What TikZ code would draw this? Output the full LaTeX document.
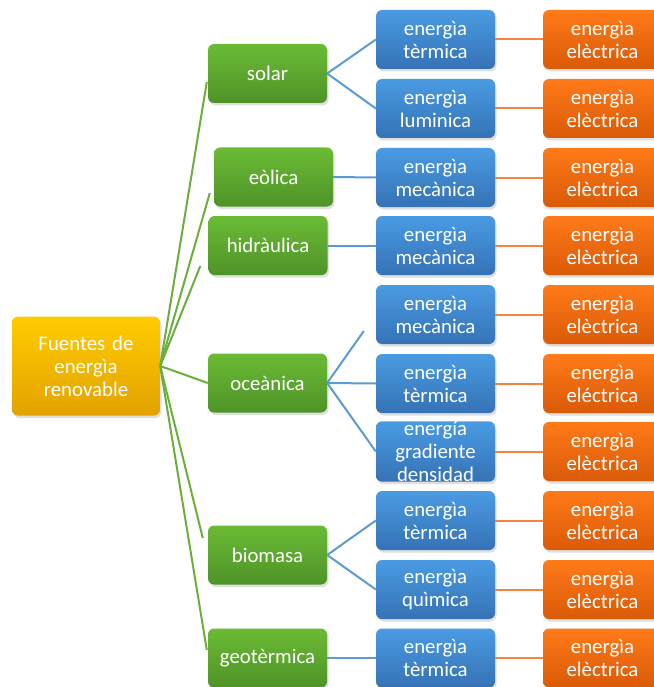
\documentclass[tikz,border=0pt]{standalone}
\usepackage{fontspec}
\setmainfont{Carlito}
\usetikzlibrary{calc,shadows}
\definecolor{gtop}{HTML}{6BBB35}
\definecolor{gbot}{HTML}{4F9328}
\definecolor{btop}{HTML}{4A9BE3}
\definecolor{bbot}{HTML}{3572B5}
\definecolor{otop}{HTML}{FF7A18}
\definecolor{obot}{HTML}{D95A08}
\definecolor{ytop}{HTML}{FFCC00}
\definecolor{ybot}{HTML}{E3A200}
\definecolor{gline}{HTML}{6AAF3C}
\definecolor{bline}{HTML}{5B9BD5}
\definecolor{oline}{HTML}{F4873D}
\tikzset{
  box/.style={rounded corners=6pt, minimum height=59pt, text width=119pt, minimum width=119pt,
    inner sep=0pt, align=center, text=white, font=\fontsize{20.8}{23}\selectfont,
    drop shadow={opacity=0.25, shadow xshift=1.5pt, shadow yshift=-2.5pt}},
  rootbox/.style={box, top color=ytop, bottom color=ybot, minimum width=148pt, text width=148pt, minimum height=99pt},
  greenbox/.style={box, top color=gtop, bottom color=gbot},
  bluebox/.style={box, top color=btop, bottom color=bbot},
  orangebox/.style={box, top color=otop, bottom color=obot},
  gconn/.style={draw=gline, line width=2pt},
  bconn/.style={draw=bline, line width=2pt},
  oconn/.style={draw=oline, line width=2pt}
}
\begin{document}
\begin{tikzpicture}[x=1pt,y=-1pt]
\useasboundingbox (0,0) rectangle (653,687);
% root
\node[rootbox] (root) at (86,366) {Fuentes de\\energìa\\renovable};
% level 1
\node[greenbox] (solar) at (267.5,73.5) {solar};
\node[greenbox] (eolica) at (273.5,177) {eòlica};
\node[greenbox] (hidraulica) at (268,245.5) {hidràulica};
\node[greenbox] (oceanica) at (267.5,383) {oceànica};
\node[greenbox] (biomasa) at (267.5,555) {biomasa};
\node[greenbox] (geotermica) at (267.5,658) {geotèrmica};
% level 2
\node[bluebox] (b1) at (435.5,39.5) {energìa\\tèrmica};
\node[bluebox] (b2) at (435.5,108.5) {energìa\\luminica};
\node[bluebox] (b3) at (435.5,177.5) {energìa\\mecànica};
\node[bluebox] (b4) at (435.5,245.5) {energìa\\mecànica};
\node[bluebox] (b5) at (435.5,314.5) {energìa\\mecànica};
\node[bluebox] (b6) at (435.5,383.5) {energìa\\tèrmica};
\node[bluebox] (b7) at (435.5,451.5) {energía\\gradiente\\densidad};
\node[bluebox] (b8) at (435.5,520.5) {energìa\\tèrmica};
\node[bluebox] (b9) at (435.5,589.5) {energìa\\quìmica};
\node[bluebox] (b10) at (435.5,658) {energìa\\tèrmica};
% level 3
\node[orangebox] (o1) at (602.5,39.5) {energìa\\elèctrica};
\node[orangebox] (o2) at (602.5,108.5) {energìa\\elèctrica};
\node[orangebox] (o3) at (602.5,177.5) {energìa\\elèctrica};
\node[orangebox] (o4) at (602.5,245.5) {energìa\\elèctrica};
\node[orangebox] (o5) at (602.5,314.5) {energìa\\elèctrica};
\node[orangebox] (o6) at (602.5,383.5) {energìa\\eléctrica};
\node[orangebox] (o7) at (602.5,451.5) {energìa\\elèctrica};
\node[orangebox] (o8) at (602.5,520.5) {energìa\\elèctrica};
\node[orangebox] (o9) at (602.5,589.5) {energìa\\elèctrica};
\node[orangebox] (o10) at (602.5,658) {energìa\\elèctrica};
% free ends
\coordinate (esolar) at ($(solar.west)+(-1,8.5)$);
\coordinate (eeolica) at ($(eolica.west)+(-4,16)$);
\coordinate (ehidr) at ($(hidraulica.west)+(-8,20.5)$);
\coordinate (ebio) at ($(biomasa.west)+(-5,-17)$);
\coordinate (egeo) at ($(geotermica.west)+(-1,-8)$);
\coordinate (eb5) at ($(b5.west)+(-12,16.5)$);
% green connectors
\draw[gconn] (root.east) -- (esolar);
\draw[gconn] (root.east) -- (eeolica);
\draw[gconn] (root.east) -- (ehidr);
\draw[gconn] (root.east) -- (oceanica.west);
\draw[gconn] (root.east) -- (ebio);
\draw[gconn] (root.east) -- (egeo);
% blue connectors
\draw[bconn] (solar.east) -- (b1.west);
\draw[bconn] (solar.east) -- (b2.west);
\draw[bconn] (eolica.east) -- (b3.west);
\draw[bconn] (hidraulica.east) -- (b4.west);
\draw[bconn] (oceanica.east) -- (eb5);
\draw[bconn] (oceanica.east) -- (b6.west);
\draw[bconn] (oceanica.east) -- (b7.west);
\draw[bconn] (biomasa.east) -- (b8.west);
\draw[bconn] (biomasa.east) -- (b9.west);
\draw[bconn] (geotermica.east) -- (b10.west);
% orange connectors
\foreach \i in {1,...,10} {\draw[oconn] (b\i.east) -- (o\i.west);}
\end{tikzpicture}
\end{document}
